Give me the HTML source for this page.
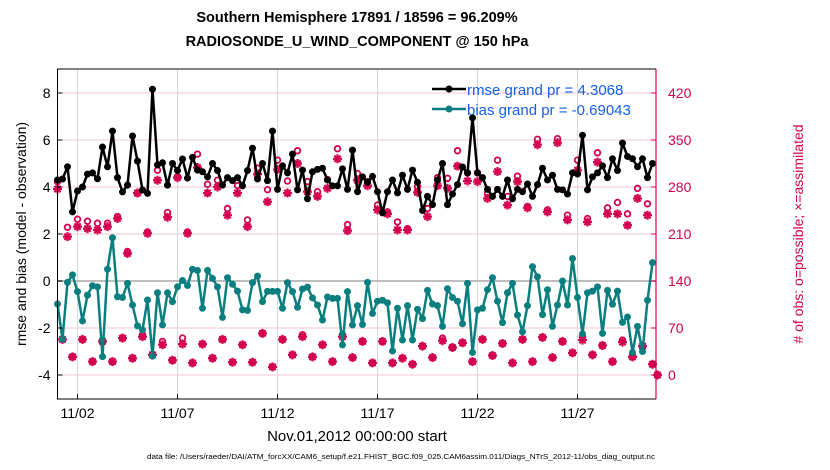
<!DOCTYPE html>
<html><head><meta charset="utf-8"><style>
body{margin:0;background:#fff;}
svg{display:block;font-family:"Liberation Sans",Arial,sans-serif;}
</style></head><body>
<svg id="chart" width="830" height="470" viewBox="0 0 830 470">
<text x="357" y="22" text-anchor="middle" font-size="14.5" font-weight="bold">Southern Hemisphere 17891 / 18596 = 96.209%</text>
<text x="357" y="46" text-anchor="middle" font-size="14.5" font-weight="bold">RADIOSONDE_U_WIND_COMPONENT @ 150 hPa</text>
<g id="grid"></g>
<g id="marks"></g>
<g id="axes"></g>
<text transform="translate(26,234) rotate(-90)" text-anchor="middle" font-size="14">rmse and bias (model - observation)</text>
<text transform="translate(803,234) rotate(-90)" text-anchor="middle" font-size="14" fill="#d4004f"># of obs: o=possible; ×=assimilated</text>
<text x="357" y="441" text-anchor="middle" font-size="15">Nov.01,2012 00:00:00 start</text>
<text x="147" y="459" font-size="7" textLength="508" lengthAdjust="spacingAndGlyphs">data file: /Users/raeder/DAI/ATM_forcXX/CAM6_setup/f.e21.FHIST_BGC.f09_025.CAM6assim.011/Diags_NTrS_2012-11/obs_diag_output.nc</text>
<g>
<line x1="432" y1="89" x2="466" y2="89" stroke="#000" stroke-width="2.5"/>
<circle cx="449" cy="89" r="3.5" fill="#000"/>
<text x="467" y="95" font-size="15" fill="#1560e8">rmse grand pr = 4.3068</text>
<line x1="432" y1="109" x2="466" y2="109" stroke="#0b7f7f" stroke-width="2.5"/>
<circle cx="449" cy="109" r="3.5" fill="#0b7f7f"/>
<text x="467" y="115" font-size="15" fill="#1560e8">bias grand pr = -0.69043</text>
</g>
</svg>
<script>
const rmse=[4.3,4.34,4.86,2.94,3.83,4.0,4.55,4.6,4.35,5.7,4.86,6.38,4.4,3.79,4.08,6.17,5.1,3.87,3.73,8.16,4.94,5.03,4.08,5.0,4.7,5.19,4.38,5.26,4.72,4.65,
4.43,5.0,4.7,4.08,4.4,4.27,4.4,4.05,4.7,5.65,4.34,5.0,4.27,6.38,3.9,4.9,4.6,5.4,3.88,4.72,3.5,4.65,4.75,4.8,4.3,4.05,4.05,4.77,3.9,5.57,
3.8,4.43,4.2,4.45,3.8,2.9,3.8,4.3,3.75,4.5,3.9,4.72,4.2,3.0,3.6,3.25,4.3,5.0,3.25,3.7,4.1,4.85,4.6,6.94,4.6,4.4,3.9,3.6,3.9,3.6,
4.3,3.5,3.9,3.8,4.13,3.6,4.1,4.8,4.3,4.5,3.9,3.88,3.7,4.6,4.55,6.2,3.88,4.43,4.6,4.9,4.4,5.2,4.7,5.87,5.3,5.2,4.86,5.2,4.4,5.0];
const bias=[-0.98,-2.48,-0.06,0.26,-0.45,-1.7,-0.6,-0.2,-0.25,-3.22,0.5,1.84,-0.67,-0.7,-0.1,-1.02,-1.91,-2.08,-0.81,-3.2,-0.5,-1.87,-0.5,-0.88,-0.25,0.02,-0.19,0.5,0.45,-1.16,
0.45,0.11,-0.25,-1.55,0.14,-0.14,-0.43,-1.23,-1.25,-0.07,0.21,-0.88,-0.44,-0.44,-0.44,-1.16,-0.07,-0.45,-1.12,-0.34,-0.26,-0.72,-1.02,-1.66,-0.68,-0.74,-0.74,-2.72,-0.45,-1.87,
-1.05,-1.85,-0.06,-1.38,-0.86,-0.82,-0.93,-2.98,-1.16,-2.51,-1.05,-2.51,-1.2,-1.6,-0.4,-0.98,-1.05,-1.93,-0.33,-0.7,-0.86,-1.82,-0.1,-3.04,-1.23,-1.16,-0.37,0.14,-0.86,-1.77,
-0.5,-0.1,-1.45,-2.16,-1.05,0.61,0.18,-1.43,-0.37,-1.93,-1.02,0.0,-1.02,0.96,-0.7,-2.25,-0.5,-0.43,-0.25,-2.23,-0.4,-0.99,-0.43,-1.76,-1.53,-3.04,-1.93,-3.0,-0.82,0.78];
const possibleEven=[288,220,232,229,226,226,236,184,271,213,305,242,295,213,329,284,290,248,282,231,308,276,320,289,334,288,273,291,337,224,
300,288,253,243,228,218,281,248,294,293,334,301,301,271,320,266,296,251,351,246,352,238,320,233,331,249,257,240,278,255];
const assimEven=[277,206,221,218,216,221,233,181,271,211,290,235,294,211,309,271,280,238,271,221,299,258,306,271,315,273,266,278,322,215,
290,282,246,240,216,216,272,236,282,278,311,289,288,263,303,253,288,249,343,243,346,231,305,228,317,240,240,223,263,238];
const possibleOdd=[53,27,53,20,50,20,55,25,60,30,50,22,55,18,46,25,53,19,45,19,62,12,53,30,60,27,45,20,60,26,
50,18,50,18,25,16,43,26,55,41,48,20,53,29,47,18,53,20,56,26,50,33,57,30,44,20,52,27,43,16];
const assimOdd=[53,27,53,20,50,20,55,25,57,30,45,22,46,18,46,25,53,19,45,19,62,12,53,30,57,27,45,20,57,26,
50,18,50,18,25,16,43,26,51,41,48,20,53,29,47,18,53,20,56,26,50,33,52,30,44,20,49,27,43,16];
const finalObs=[0];
const leftTicks=[8,6,4,2,0,-2,-4];
const rightTicks=[420,350,280,210,140,70,0];
const dayTickLabels=["11/02","11/07","11/12","11/17","11/22","11/27"];
const dayTickValues=[1,6,11,16,21,26];

const NS="http://www.w3.org/2000/svg";
const L=57.5,R=656,T=69,B=399;
const yL=v=>281-v*23.5;
const yR=o=>375-o*(282/420);
const xD=d=>L+d*20;
const xI=i=>xD(i*0.25);
function el(tag,attrs,parent){const e=document.createElementNS(NS,tag);for(const k in attrs)e.setAttribute(k,attrs[k]);parent.appendChild(e);return e;}
const grid=document.getElementById('grid'),marks=document.getElementById('marks'),axes=document.getElementById('axes');
const PINK="#d4004f";
leftTicks.forEach(v=>{
  const g=el('line',{x1:L,x2:R,y1:yL(v),y2:yL(v),stroke:'#f3c6d6','stroke-width':1},grid);
  
  
  const t=el('text',{x:L-7,y:yL(v)+5,'text-anchor':'end','font-size':14},axes);t.textContent=v;
  
  
  const tk=el('line',{x1:L,x2:L+5,y1:yL(v),y2:yL(v),stroke:'#000'},axes);
  
  
});
rightTicks.forEach(o=>{
  const t=el('text',{x:R+12,y:yR(o)+5,'font-size':14,fill:PINK},axes);t.textContent=o;
  
  
  const tk=el('line',{x1:R-5,x2:R,y1:yR(o),y2:yR(o),stroke:PINK},axes);
  
  
});
dayTickValues.forEach((d,k)=>{
  const g=el('line',{x1:xD(d),x2:xD(d),y1:T,y2:B,stroke:'#d8d8d8','stroke-width':1},grid);
  
  
  const tk=el('line',{x1:xD(d),x2:xD(d),y1:B,y2:B-5,stroke:'#000'},axes);
  
  
  const t=el('text',{x:xD(d),y:418,'text-anchor':'middle','font-size':14},axes);t.textContent=dayTickLabels[k];
  
  
});
const zl=el('line',{x1:L,x2:R,y1:yL(0),y2:yL(0),stroke:'#bdbdbd','stroke-width':2},grid);


const frame=el('path',{d:`M${R},${T} H${L} V${B} H${R}`,fill:'none',stroke:'#000','stroke-width':1},axes);


const ra=el('line',{x1:R,x2:R,y1:T,y2:B,stroke:PINK,'stroke-width':1.2},axes);



function obsMark(x,p,a){
  const c=el('circle',{cx:x,cy:yR(p),r:2.8,fill:'none',stroke:PINK,'stroke-width':1.8},marks);
  
  
  const y=yR(a),s=4.5;
  const g=el('path',{d:`M${x-s},${y}H${x+s}M${x},${y-s}V${y+s}M${x-s*0.7},${y-s*0.7}L${x+s*0.7},${y+s*0.7}M${x-s*0.7},${y+s*0.7}L${x+s*0.7},${y-s*0.7}`,stroke:PINK,'stroke-width':2.2},marks);
  
  
}
possibleEven.forEach((p,k)=>obsMark(xI(2*k),p,assimEven[k]));
possibleOdd.forEach((p,k)=>obsMark(xI(2*k+1),p,assimOdd[k]));
finalObs.forEach(o=>obsMark(xI(120),o,o));

function series(vals,color,name){
  const pl=el('polyline',{points:vals.map((v,i)=>xI(i)+','+yL(v)).join(' '),fill:'none',stroke:color,'stroke-width':2.5,'stroke-linejoin':'round'},marks);
  
  
  vals.forEach((v,i)=>{
    const c=el('circle',{cx:xI(i),cy:yL(v),r:3.5,fill:color},marks);
    
    
  });
}
series(bias,'#0b7f7f','bias');
series(rmse,'#000','rmse');
</script>
</body></html>
